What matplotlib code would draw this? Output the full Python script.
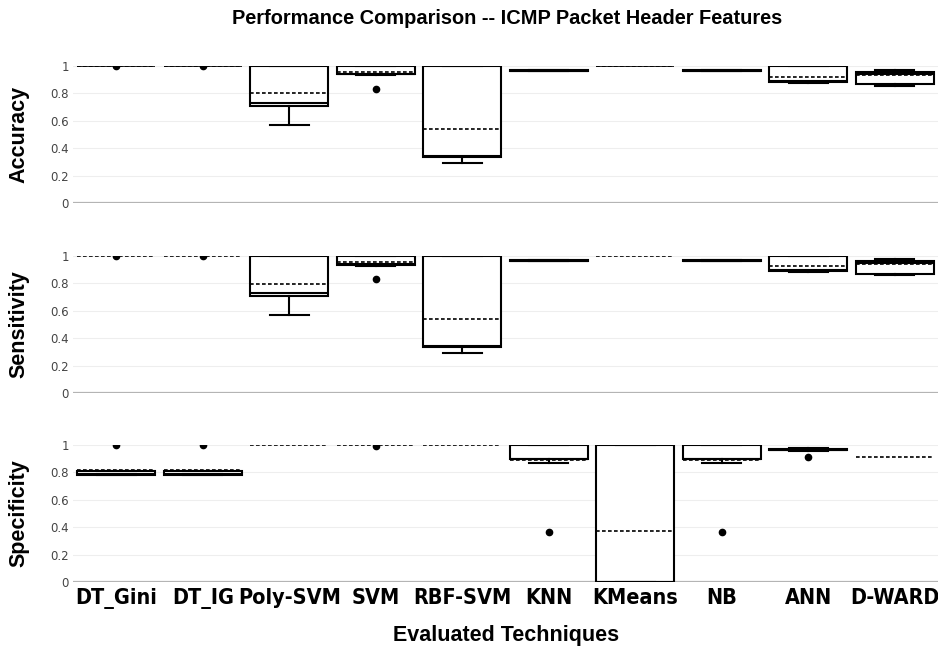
import matplotlib
matplotlib.use("Agg")
import matplotlib.pyplot as plt
from matplotlib import font_manager

# techniques on the x axis
techniques = ['DT_Gini', 'DT_IG', 'Poly-SVM', 'SVM', 'RBF-SVM',
              'KNN', 'KMeans', 'NB', 'ANN', 'D-WARD']

# box statistics (q1, median, q3, whiskers, mean, outliers)
acc_q1 = [1.0, 1.0, 0.71, 0.94, 0.335, 0.963, 1.0, 0.963, 0.885, 0.866]
acc_med = [1.0, 1.0, 0.73, 0.945, 0.345, 0.967, 1.0, 0.967, 0.89, 0.94]
acc_q3 = [1.0, 1.0, 1.0, 1.0, 1.0, 0.97, 1.0, 0.97, 1.0, 0.958]
acc_lo = [1.0, 1.0, 0.57, 0.935, 0.295, 0.96, 1.0, 0.96, 0.878, 0.856]
acc_hi = [1.0, 1.0, 1.0, 1.0, 1.0, 0.97, 1.0, 0.97, 1.0, 0.972]
acc_mean = [0.999, 0.999, 0.80, 0.955, 0.54, 0.966, 1.0, 0.966, 0.92, 0.932]
acc_out = [[0.998], [0.998], [], [0.832], [], [], [], [], [], []]

sen_q1 = [1.0, 1.0, 0.71, 0.937, 0.335, 0.963, 1.0, 0.963, 0.89, 0.87]
sen_med = [1.0, 1.0, 0.73, 0.94, 0.345, 0.967, 1.0, 0.967, 0.895, 0.95]
sen_q3 = [1.0, 1.0, 1.0, 1.0, 1.0, 0.97, 1.0, 0.97, 1.0, 0.966]
sen_lo = [1.0, 1.0, 0.57, 0.93, 0.295, 0.96, 1.0, 0.96, 0.885, 0.86]
sen_hi = [1.0, 1.0, 1.0, 1.0, 1.0, 0.97, 1.0, 0.97, 1.0, 0.976]
sen_mean = [0.999, 0.999, 0.797, 0.953, 0.54, 0.966, 1.0, 0.966, 0.926, 0.938]
sen_out = [[0.998], [0.998], [], [0.835], [], [], [], [], [], []]

spe_q1 = [0.778, 0.778, 1.0, 1.0, 1.0, 0.895, 0.0, 0.895, 0.96, 0.91]
spe_med = [0.79, 0.79, 1.0, 1.0, 1.0, 0.90, 0.0, 0.90, 0.965, 0.91]
spe_q3 = [0.812, 0.812, 1.0, 1.0, 1.0, 1.0, 1.0, 1.0, 0.97, 0.91]
spe_lo = [0.778, 0.778, 1.0, 1.0, 1.0, 0.87, 0.0, 0.87, 0.955, 0.91]
spe_hi = [0.812, 0.812, 1.0, 1.0, 1.0, 1.0, 1.0, 1.0, 0.975, 0.91]
spe_mean = [0.815, 0.815, 1.0, 0.999, 1.0, 0.89, 0.371, 0.89, 0.96, 0.91]
spe_out = [[1.0], [1.0], [], [0.99], [], [0.365], [], [0.365], [0.91], []]

metrics = [
    ('Accuracy', acc_q1, acc_med, acc_q3, acc_lo, acc_hi, acc_mean, acc_out),
    ('Sensitivity', sen_q1, sen_med, sen_q3, sen_lo, sen_hi, sen_mean, sen_out),
    ('Specificity', spe_q1, spe_med, spe_q3, spe_lo, spe_hi, spe_mean, spe_out),
]
# in the accuracy panel the flat boxes show as a solid line, elsewhere dashed
solid_flat = [True, False, False]

# look for a condensed bold face for the tick labels, otherwise Roboto bold
cond = font_manager.findfont(font_manager.FontProperties(
    family='DejaVu Sans', stretch='condensed', weight='bold'))
if 'ondensed' in cond:
    tick_font = font_manager.FontProperties(fname=cond, size=15.5)
else:
    tick_font = font_manager.FontProperties(family='Roboto', weight='bold', size=15)

fig = plt.figure(figsize=(9.38, 6.5), dpi=100)

left, width = 73 / 938, 865 / 938
bottoms = [203, 393, 582]
panel_h = 137

for i, (name, q1, med, q3, lo, hi, mean, out) in enumerate(metrics):
    b = bottoms[i]
    ax = fig.add_axes([left, (650 - b) / 650, width, panel_h / 650])

    stats = []
    for j in range(len(techniques)):
        stats.append(dict(label=techniques[j], q1=q1[j], med=med[j], q3=q3[j],
                          whislo=lo[j], whishi=hi[j], mean=mean[j], fliers=out[j]))

    pos = list(range(len(techniques)))
    res = ax.bxp(stats, positions=pos, widths=0.9, capwidths=0.45,
                 showmeans=True, meanline=True, patch_artist=True,
                 boxprops=dict(facecolor='white', edgecolor='black', linewidth=1.5),
                 medianprops=dict(color='black', linewidth=1.5),
                 meanprops=dict(color='black', linewidth=1.2, linestyle=(0, (2.2, 1.4))),
                 whiskerprops=dict(color='black', linewidth=1.5),
                 capprops=dict(color='black', linewidth=1.5),
                 flierprops=dict(marker='o', markerfacecolor='black',
                                 markeredgecolor='black', markersize=4.5))

    # boxes squashed to one value: thin line only
    for j, box in enumerate(res['boxes']):
        if q1[j] == q3[j]:
            if solid_flat[i]:
                box.set_linewidth(1.2)
            else:
                box.set_linewidth(0)
            res['medians'][j].set_visible(False)
            for k in (2 * j, 2 * j + 1):
                res['caps'][k].set_visible(False)

    ax.set_xlim(-0.5, len(techniques) - 0.5)
    ax.set_ylim(0, 1.0)
    ax.set_yticks([0, 0.2, 0.4, 0.6, 0.8, 1.0])
    ax.set_yticklabels(['0', '0.2', '0.4', '0.6', '0.8', '1'])
    ax.tick_params(axis='y', length=0, pad=3, labelsize=8.5, labelcolor='#444444')
    ax.tick_params(axis='x', length=0)
    ax.grid(axis='y', color='#eeeeee', linewidth=0.8)
    ax.set_axisbelow(True)
    for s in ax.spines.values():
        s.set_visible(False)
    ax.axhline(0, color='#b4b4b4', linewidth=1.6, zorder=1)

    ax.set_ylabel(name, fontsize=15.5, fontweight='bold', family='Liberation Sans')
    ax.yaxis.set_label_coords(-0.05, 0.5)

    if i == 2:
        ax.set_xticks(pos)
        ax.set_xticklabels(techniques)
        for t in ax.get_xticklabels():
            t.set_fontproperties(tick_font)
        ax.tick_params(axis='x', pad=4)
    else:
        ax.set_xticks([])

fig.text(507 / 938, 1 - 18 / 650, 'Performance Comparison -- ICMP Packet Header Features',
         ha='center', va='center', fontsize=14.4, fontweight='bold', family='Liberation Sans')
fig.text(506 / 938, 1 - 636 / 650, 'Evaluated Techniques',
         ha='center', va='center', fontsize=15.5, fontweight='bold', family='Liberation Sans')

fig.savefig('out.png', dpi=100)
